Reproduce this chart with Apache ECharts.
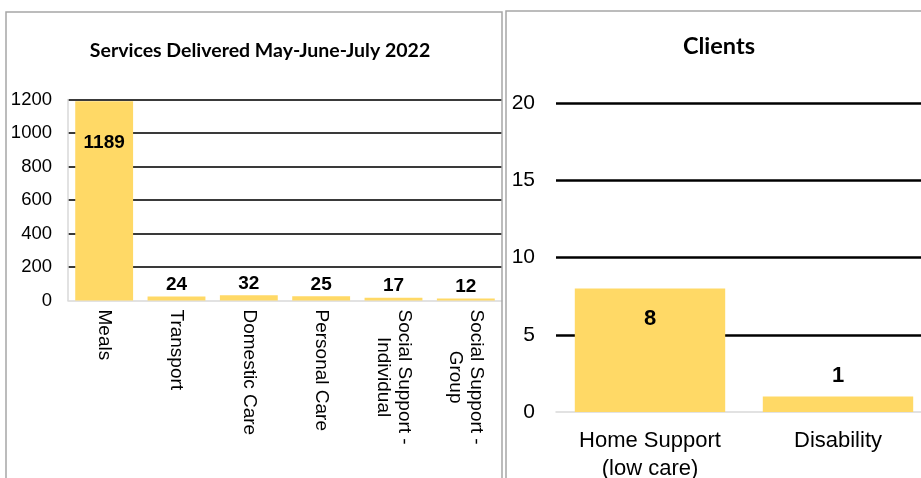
<!DOCTYPE html>
<html>
<head>
<meta charset="utf-8">
<script src="https://cdn.jsdelivr.net/npm/echarts@6/dist/echarts.min.js"></script>
<style>
  html, body { margin: 0; padding: 0; background: #fff; overflow: hidden; }
  /* the right chart runs a little past the window edge, as in the original */
  #chart { width: 932px; height: 478px; }
</style>
</head>
<body>
<div id="chart"></div>
<script>
// left chart: services
const serviceNames = ['Meals', 'Transport', 'Domestic Care', 'Personal Care', 'Social Support -\nIndividual', 'Social Support -\nGroup']
const serviceCounts = [1189, 24, 32, 25, 17, 12]
const serviceTicks = [0, 200, 400, 600, 800, 1000, 1200]

// right chart: clients
const clientTypes = ['Home Support\n(low care)', 'Disability']
const clientCounts = [8, 1]
const clientTicks = [0, 5, 10, 15, 20]

const FONT = '"Liberation Sans", Arial, sans-serif'
const BAR = '#FFD966'

const chart = echarts.init(document.getElementById('chart'))

chart.setOption({
  animation: false,
  backgroundColor: '#fff',
  title: [
    {
      text: 'Services Delivered May-June-July 2022',
      left: 255,
      top: 36,
      textAlign: 'center',
      textStyle: { fontFamily: 'Lato, sans-serif', fontWeight: 'bold', fontSize: 19.5, color: '#000' }
    },
    {
      text: 'Clients',
      left: 714,
      top: 29,
      textAlign: 'center',
      textStyle: { fontFamily: 'Lato, sans-serif', fontWeight: 'bold', fontSize: 23.5, color: '#000' }
    }
  ],
  graphic: [
    { type: 'rect', shape: { x: 6, y: 12, width: 496, height: 500 }, style: { fill: 'none', stroke: '#a6a6a6', lineWidth: 1.5 }, z: 100 },
    { type: 'rect', shape: { x: 506, y: 11, width: 500, height: 500 }, style: { fill: 'none', stroke: '#a6a6a6', lineWidth: 1.5 }, z: 100 }
  ],
  grid: [
    { left: 68, top: 99.5, right: 430, bottom: 177.5, outerBoundsMode: 'none' },
    { left: 556, top: 103, right: 0, bottom: 66, outerBoundsMode: 'none' }
  ],
  xAxis: [
    {
      type: 'category',
      gridIndex: 0,
      data: serviceNames,
      axisTick: { show: false },
      axisLine: { lineStyle: { color: '#d9d9d9', width: 1.5 } },
      axisLabel: {
        rotate: -90,
        margin: 9,
        interval: 0,
        formatter: (v) => v.split('\n').map(s => '{c|' + s + '}').join('\n'),
        rich: {
          c: { fontFamily: FONT, fontSize: 19, lineHeight: 21, color: '#000', align: 'center' }
        }
      }
    },
    {
      type: 'category',
      gridIndex: 1,
      data: clientTypes,
      axisTick: { show: false },
      axisLine: { lineStyle: { color: '#d9d9d9', width: 1.5 } },
      axisLabel: {
        margin: 15,
        interval: 0,
        fontFamily: FONT,
        fontSize: 22,
        lineHeight: 28,
        color: '#000'
      }
    }
  ],
  yAxis: [
    {
      type: 'value',
      gridIndex: 0,
      min: serviceTicks[0],
      max: serviceTicks[serviceTicks.length - 1],
      interval: serviceTicks[1] - serviceTicks[0],
      axisLine: { show: true, lineStyle: { color: '#d9d9d9', width: 1.5 } },
      axisTick: { show: false },
      axisLabel: { margin: 16, fontFamily: FONT, fontSize: 18.5, color: '#000', formatter: (v) => String(v) },
      splitLine: { showMinLine: false, lineStyle: { color: '#3a3a3a', width: 2 } }
    },
    {
      type: 'value',
      gridIndex: 1,
      min: clientTicks[0],
      max: clientTicks[clientTicks.length - 1],
      interval: clientTicks[1] - clientTicks[0],
      axisLine: { show: false },
      axisTick: { show: false },
      axisLabel: { margin: 21, fontFamily: FONT, fontSize: 21, color: '#000' },
      splitLine: { showMinLine: false, lineStyle: { color: '#000', width: 2.5 } }
    }
  ],
  series: [
    {
      type: 'bar',
      xAxisIndex: 0,
      yAxisIndex: 0,
      barWidth: '80%',
      itemStyle: { color: BAR },
      label: {
        show: true,
        position: 'top',
        distance: 2,
        fontFamily: FONT,
        fontSize: 19,
        fontWeight: 'bold',
        color: '#000'
      },
      data: serviceCounts.map(v => v > 1000 ? { value: v, label: { position: 'insideTop', distance: 32 } } : v)
    },
    {
      type: 'bar',
      xAxisIndex: 1,
      yAxisIndex: 1,
      barWidth: '80%',
      itemStyle: { color: BAR },
      label: {
        show: true,
        position: 'top',
        distance: 10,
        fontFamily: FONT,
        fontSize: 22,
        fontWeight: 'bold',
        color: '#000'
      },
      data: clientCounts.map(v => v > 4 ? { value: v, label: { position: 'insideTop', distance: 20 } } : v)
    }
  ]
})

window.addEventListener('resize', () => chart.resize())
</script>
</body>
</html>
